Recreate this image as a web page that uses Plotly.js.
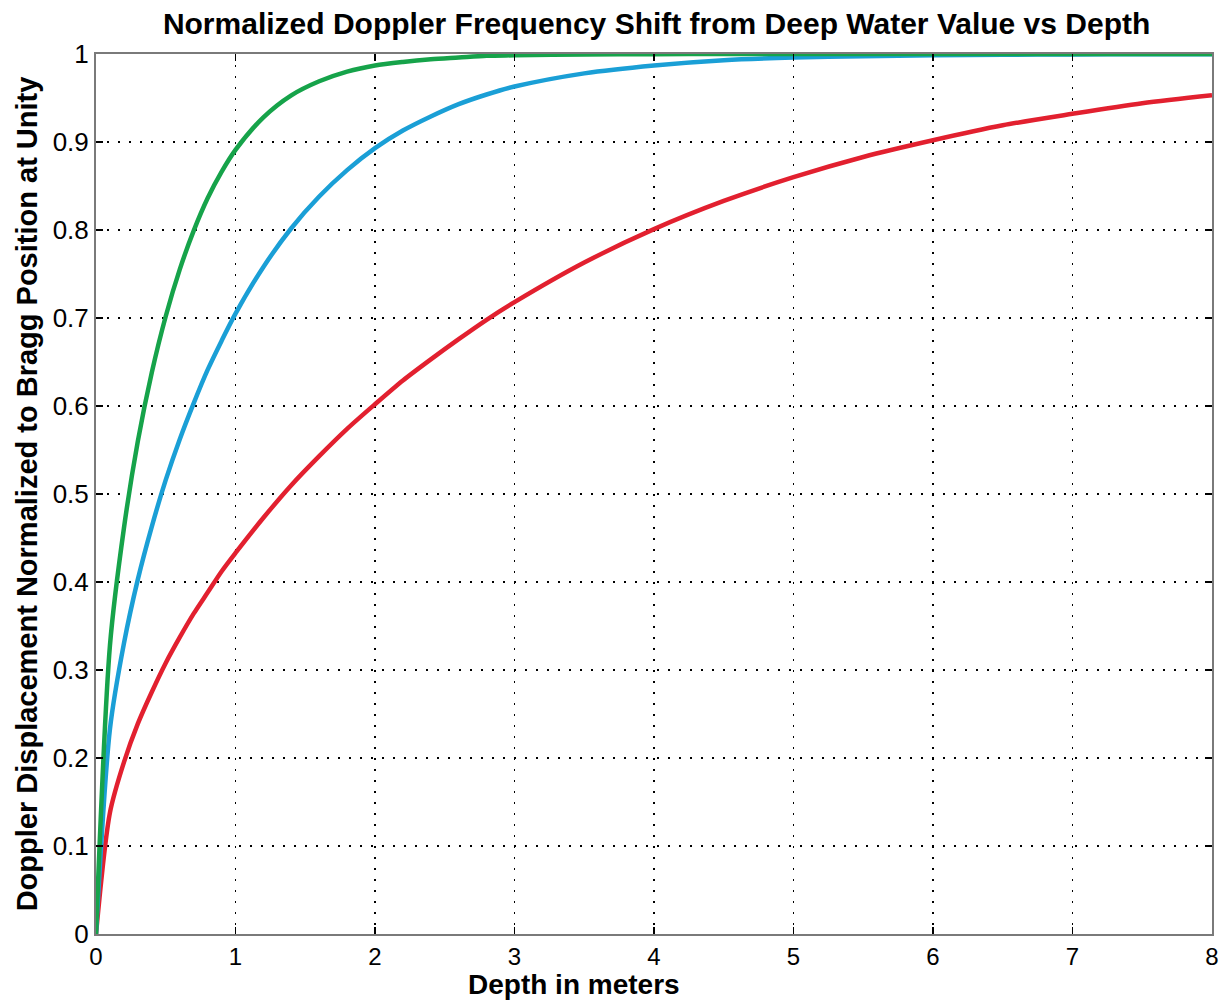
<!DOCTYPE html>
<html>
<head>
<meta charset="utf-8">
<script src="https://cdn.plot.ly/plotly-3.0.1.min.js"></script>
<style>html,body{margin:0;padding:0;background:#fff;}#chart{width:1225px;height:1002px;}</style>
</head>
<body>
<div id="chart"></div>
<script>
var depth = [0, 0.1, 0.2, 0.3, 0.4, 0.5, 0.6, 0.7, 0.8, 0.9, 1.0,
             1.2, 1.4, 1.6, 1.8, 2.0, 2.2, 2.4, 2.6, 2.8, 3.0,
             3.5, 4.0, 4.5, 5.0, 5.5, 6.0, 6.5, 7.0, 7.5, 8.0];

var greenShift = [0, 0.328, 0.461, 0.560, 0.638, 0.702, 0.755, 0.799, 0.836, 0.866, 0.891,
                  0.928, 0.953, 0.969, 0.980, 0.987, 0.991, 0.994, 0.996, 0.998, 0.9985,
                  0.9995, 0.9998, 0.9999, 1.0, 1.0, 1.0, 1.0, 1.0, 1.0, 1.0];

var blueShift = [0, 0.233, 0.330, 0.403, 0.463, 0.516, 0.562, 0.603, 0.641, 0.674, 0.705,
                 0.758, 0.802, 0.838, 0.868, 0.893, 0.913, 0.929, 0.943, 0.954, 0.963,
                 0.978, 0.987, 0.993, 0.996, 0.9975, 0.9986, 0.9992, 0.9995, 0.9997, 0.9998];

var redShift = [0, 0.138, 0.195, 0.239, 0.275, 0.308, 0.337, 0.364, 0.388, 0.412, 0.433,
                0.473, 0.510, 0.543, 0.574, 0.602, 0.629, 0.653, 0.676, 0.698, 0.718,
                0.763, 0.801, 0.833, 0.860, 0.883, 0.902, 0.919, 0.932, 0.944, 0.953];

var xTicks = [0, 1, 2, 3, 4, 5, 6, 7, 8];
var yTicks = [0, 0.1, 0.2, 0.3, 0.4, 0.5, 0.6, 0.7, 0.8, 0.9, 1];
var yTickText = ['0', '0.1', '0.2', '0.3', '0.4', '0.5', '0.6', '0.7', '0.8', '0.9', '1'];

var FONT = 'Liberation Sans, Arial, Helvetica, sans-serif';

function lineTrace(y, color) {
  return {x: depth, y: y, mode: 'lines', line: {color: color, width: 4.5, shape: 'spline', smoothing: 0.8}, hoverinfo: 'skip'};
}

var traces = [
  lineTrace(redShift, '#e2202f'),
  lineTrace(blueShift, '#1a9fd6'),
  lineTrace(greenShift, '#16a34a')
];

var axisCommon = {
  showline: true, linecolor: '#7a7a7a', linewidth: 2, mirror: 'ticks',
  ticks: 'inside', ticklen: 7, tickwidth: 1.5, tickcolor: '#000',
  showgrid: true, gridcolor: '#000', gridwidth: 1.2, griddash: '2px,9px',
  zeroline: false, tickfont: {family: FONT, size: 26, color: '#000'}
};

var layout = {
  width: 1225, height: 1002,
  margin: {l: 96, r: 13, t: 54, b: 68},
  paper_bgcolor: '#fff', plot_bgcolor: '#fff',
  showlegend: false,
  title: {text: '<b>Normalized Doppler Frequency Shift from Deep Water Value vs Depth</b>',
          font: {family: FONT, size: 30, color: '#000'}, x: 0.536, xanchor: 'center', y: 0.977, yanchor: 'middle'},
  xaxis: Object.assign({}, axisCommon, {
    range: [0, 8], tickvals: xTicks, ticktext: xTicks.map(String),
    tickfont: {family: FONT, size: 24, color: '#000'}
  }),
  yaxis: Object.assign({}, axisCommon, {
    range: [0, 1], tickvals: yTicks, ticktext: yTickText,
    title: {text: '<b>Doppler Displacement Normalized to Bragg Position at Unity</b>', font: {family: FONT, size: 29, color: '#000'}, standoff: 6}
  }),
  annotations: [{
    text: '<b>Depth in meters</b>', xref: 'paper', yref: 'paper',
    x: 0.428, y: -0.0773, xanchor: 'center', yanchor: 'bottom', showarrow: false,
    font: {family: FONT, size: 28, color: '#000'}
  }]
};

Plotly.newPlot('chart', traces, layout, {displayModeBar: false, staticPlot: true});
</script>
</body>
</html>
